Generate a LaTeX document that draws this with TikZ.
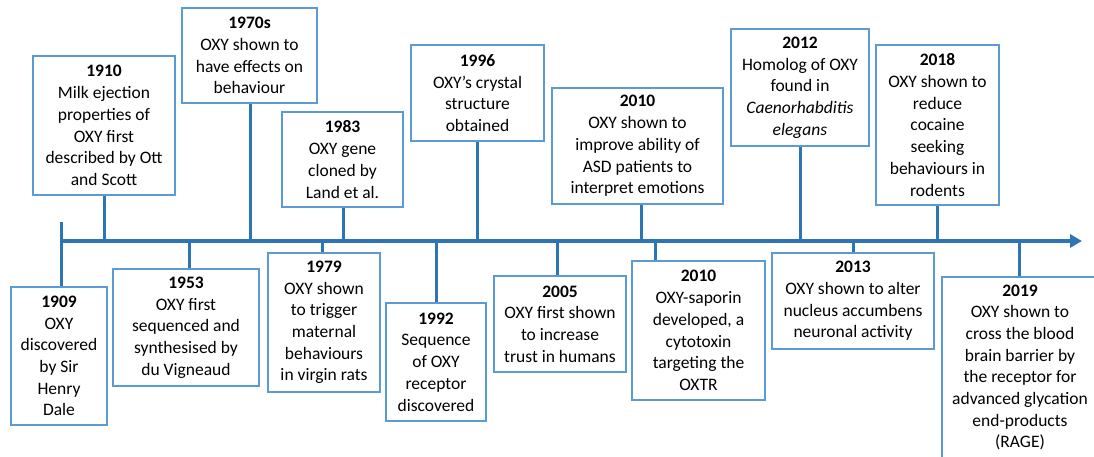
\documentclass[tikz,border=0pt]{standalone}
\usepackage{fontspec}
\setmainfont{Carlito}
\usepackage{tikz}
\usetikzlibrary{positioning, arrows.meta}
\definecolor{axisblue}{HTML}{2E75B6}
\definecolor{boxblue}{HTML}{5B9BD5}
\tikzset{
  evbox/.style={rectangle, draw=boxblue, line width=1.3pt, fill=white, inner sep=0pt, align=center,
    font=\fontsize{17.5pt}{21.7pt}\selectfont},
  tickline/.style={draw=axisblue, line width=3pt},
  axisline/.style={draw=axisblue, line width=4pt, -{Triangle[length=12pt,width=13pt]}}
}
\begin{document}
\begin{tikzpicture}[x=1pt, y=-1pt]
    \useasboundingbox (0,0) rectangle (1094,457);
    \coordinate (axisL) at (61,241);
    \coordinate (axisR) at (1082,241);
    \coordinate (tickstart) at (61,222);
    % events above the line
    \node (ev1910)  at (104,125.5)  [evbox, minimum width=142, minimum height=139] {\textbf{1910}\\Milk ejection\\properties of\\OXY first\\described by Ott\\and Scott};
    \node (ev1970)  at (249.5,55.5) [evbox, minimum width=135, minimum height=95] {\textbf{1970s}\\OXY shown to\\have effects on\\behaviour};
    \node (ev1983)  at (342.5,159.5) [evbox, minimum width=121, minimum height=95] {\textbf{1983}\\OXY gene\\cloned by\\Land et al.};
    \node (ev1996)  at (477.5,93)   [evbox, minimum width=133, minimum height=96] {\textbf{1996}\\OXY’s crystal\\structure\\obtained};
    \node (ev2010a) at (637.5,146)  [evbox, minimum width=171, minimum height=116] {\textbf{2010}\\OXY shown to\\improve ability of\\ASD patients to\\interpret emotions};
    \node (ev2012)  at (800,87.5)   [evbox, minimum width=138, minimum height=117] {\textbf{2012}\\Homolog of OXY\\found in\\\textit{Caenorhabditis}\\\textit{elegans}};
    \node (ev2018)  at (937.5,125)  [evbox, minimum width=123, minimum height=160] {\textbf{2018}\\OXY shown to\\reduce\\cocaine\\seeking\\behaviours in\\rodents};
    % events below the line
    \node (ev1909)  at (59,356)     [evbox, minimum width=96, minimum height=138] {\textbf{1909}\\OXY\\discovered\\by Sir\\Henry\\Dale};
    \node (ev1953)  at (186,327.5)  [evbox, minimum width=146, minimum height=117] {\textbf{1953}\\OXY first\\sequenced and\\synthesised by\\du Vigneaud};
    \node (ev1979)  at (324,322.5)  [evbox, minimum width=112, minimum height=139] {\textbf{1979}\\OXY shown\\to trigger\\maternal\\behaviours\\in virgin rats};
    \node (ev1992)  at (436,362)    [evbox, minimum width=100, minimum height=118] {\textbf{1992}\\Sequence\\of OXY\\receptor\\discovered};
    \node (ev2005)  at (560,324)    [evbox, minimum width=132, minimum height=96] {\textbf{2005}\\OXY first shown\\to increase\\trust in humans};
    \node (ev2010b) at (698.5,330.5) [evbox, minimum width=133, minimum height=139] {\textbf{2010}\\OXY-saporin\\developed, a\\cytotoxin\\targeting the\\OXTR};
    \node (ev2013)  at (853,301)    [evbox, minimum width=162, minimum height=96] {\textbf{2013}\\OXY shown to alter\\nucleus accumbens\\neuronal activity};
    \node (ev2019)  at (1020,367.5) [evbox, minimum width=156, minimum height=181] {\textbf{2019}\\OXY shown to\\cross the blood\\brain barrier by\\the receptor for\\advanced glycation\\end-products\\(RAGE)};
    % connectors
    \foreach \ev/\dx in {ev1910/0, ev1970/0.5, ev1983/0.5, ev1996/-0.5, ev2010a/3.5, ev2012/0, ev2018/-0.5}
        \draw[tickline] ([xshift=\dx]\ev.south) -- ([xshift=\dx]\ev.south |- axisL);
    \foreach \ev/\dx in {ev1953/3, ev1979/-2, ev1992/0, ev2005/-3, ev2010b/-43.5, ev2013/0, ev2019/-1}
        \draw[tickline] ([xshift=\dx]\ev.north) -- ([xshift=\dx]\ev.north |- axisL);
    \draw[tickline] (tickstart) -- (tickstart |- ev1909.north);
    \draw[axisline] (axisL) -- (axisR);
\end{tikzpicture}
\end{document}
